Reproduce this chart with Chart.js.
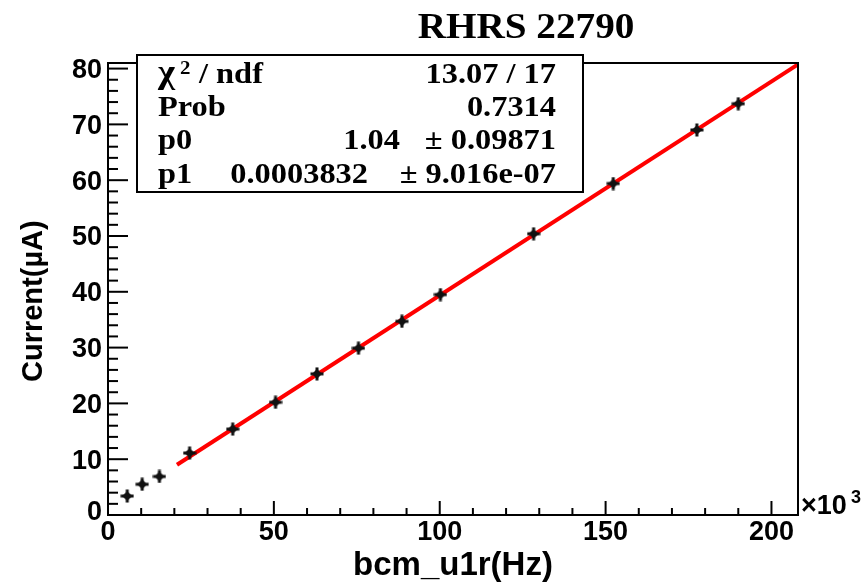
<!DOCTYPE html>
<html>
<head>
<meta charset="utf-8">
<title>RHRS 22790</title>
<script src="https://cdn.jsdelivr.net/npm/chart.js@4.4.1/dist/chart.umd.min.js"></script>
<style>
    html, body { margin: 0; padding: 0; background: #fff; }
    canvas { display: block; }
</style>
</head>
<body>
<canvas id="bcmChart" width="865" height="582"></canvas>
<script>
    // bcm_u1r rate in kHz (axis shows x10^3 Hz) and beam current in uA
    var rateKHz   = [5.8, 10.3, 15.5, 24.6, 37.6, 50.5, 63.0, 75.5, 88.6, 100.2, 128.3, 152.3, 177.5, 190.0];
    var currentUA = [3.4, 5.5, 6.9, 11.1, 15.4, 20.2, 25.3, 29.9, 34.7, 39.5, 50.4, 59.4, 69.0, 73.7];

    // linear fit pol1: I = p0 + p1 * rate(Hz)
    var fitP0 = 1.04;
    var fitP1 = 0.0003832;
    var fitRangeKHz = [20.8, 208];

    var xTickValues = [0, 50, 100, 150, 200];
    var xTickLabels = ['0', '50', '100', '150', '200'];
    var yTickValues = [0, 10, 20, 30, 40, 50, 60, 70, 80];
    var yTickLabels = ['0', '10', '20', '30', '40', '50', '60', '70', '80'];

    var statNames  = ['χ', 'Prob', 'p0', 'p1'];
    var statValues = ['13.07 / 17', '0.7314', '1.04', '0.0003832'];
    var statErrors = ['', '', '± 0.09871', '± 9.016e-07'];

    var xMax = 208;
    var yMax = 81;

    var SANS = '"Liberation Sans", Arial, Helvetica, sans-serif';
    var SERIF = '"Liberation Serif", "Times New Roman", serif';

    var points = rateKHz.map(function (r, i) { return { x: r, y: currentUA[i] }; });
    var fitLine = fitRangeKHz.map(function (r) { return { x: r, y: fitP0 + fitP1 * r * 1000 }; });

    // small cross marker with a solid centre, like the error-bar markers
    function makeMarker() {
        var c = document.createElement('canvas');
        c.width = 14; c.height = 14;
        var g = c.getContext('2d');
        g.fillStyle = '#111';
        g.fillRect(0.5, 5.5, 13, 3);
        g.fillRect(5.5, 0.5, 3, 13);
        g.beginPath();
        g.moveTo(7, 2); g.lineTo(12, 7); g.lineTo(7, 12); g.lineTo(2, 7);
        g.closePath();
        g.fill();
        return c;
    }

    function textStretched(ctx, text, x, y, align, sx) {
        ctx.save();
        ctx.translate(x, y);
        ctx.scale(sx, 1);
        ctx.textAlign = align;
        ctx.fillText(text, 0, 0);
        ctx.restore();
    }

    function line(ctx, x1, y1, x2, y2) {
        ctx.beginPath();
        ctx.moveTo(x1, y1);
        ctx.lineTo(x2, y2);
        ctx.stroke();
    }

    var rootFrame = {
        id: 'rootFrame',
        afterDraw: function (chart) {
            var ctx = chart.ctx;
            var a = chart.chartArea;
            var xs = chart.scales.x;
            var ys = chart.scales.y;
            ctx.save();
            ctx.strokeStyle = '#000';
            ctx.fillStyle = '#000';
            ctx.lineWidth = 2;
            ctx.strokeRect(a.left, a.top, a.right - a.left, a.bottom - a.top);

            // x ticks: major every 50, minor every 10
            for (var i = 0; i * 10 <= xMax; i++) {
                var px = xs.getPixelForValue(i * 10);
                line(ctx, px, a.bottom, px, a.bottom - (i % 5 === 0 ? 14 : 7));
            }
            // y ticks: major every 10, minor every 2
            for (var j = 0; j * 2 <= yMax; j++) {
                var py = ys.getPixelForValue(j * 2);
                line(ctx, a.left, py, a.left + (j % 5 === 0 ? 20 : 10), py);
            }

            ctx.font = 'bold 27px ' + SANS;
            ctx.textBaseline = 'middle';
            ctx.textAlign = 'center';
            xTickValues.forEach(function (v, k) {
                ctx.fillText(xTickLabels[k], xs.getPixelForValue(v), 533);
            });
            ctx.textAlign = 'right';
            yTickValues.forEach(function (v, k) {
                var y = ys.getPixelForValue(v) + 2;
                if (v === 0) y -= 4;
                ctx.fillText(yTickLabels[k], 102, y);
            });

            // x10^3 exponent at the end of the x axis
            ctx.textBaseline = 'alphabetic';
            ctx.textAlign = 'left';
            ctx.font = 'bold 27px ' + SANS;
            ctx.fillText('×10', 801, 514);
            ctx.font = 'bold 18px ' + SANS;
            ctx.fillText('3', 851, 503);

            // axis titles
            ctx.font = 'bold 33px ' + SANS;
            ctx.textAlign = 'center';
            ctx.fillText('bcm_u1r(Hz)', 453, 575);
            ctx.save();
            ctx.translate(42, 382);
            ctx.rotate(-Math.PI / 2);
            ctx.textAlign = 'left';
            ctx.font = 'bold 29px ' + SANS;
            ctx.fillText('Current(µA)', 0, 0);
            ctx.restore();

            // title
            ctx.font = 'bold 35px ' + SERIF;
            textStretched(ctx, 'RHRS 22790', 526, 38, 'center', 1.12);

            // fit statistics box
            ctx.fillStyle = '#fff';
            ctx.fillRect(137, 55, 446, 137);
            ctx.strokeRect(137, 55, 446, 137);
            ctx.fillStyle = '#000';
            var rowBase = [83, 116, 149, 183];
            ctx.font = 'bold 30px ' + SERIF;
            statNames.forEach(function (name, k) {
                var size = k === 0 ? 34 : 30;
                ctx.font = 'bold ' + size + 'px ' + SERIF;
                textStretched(ctx, name, 158, rowBase[k], 'left', 1.08);
            });
            // superscript and rest of chi2 / ndf label
            ctx.font = 'bold 19px ' + SERIF;
            textStretched(ctx, '2', 180, 74, 'left', 1.1);
            ctx.font = 'bold 30px ' + SERIF;
            textStretched(ctx, '/ ndf', 199, rowBase[0], 'left', 1.08);

            var valueRight = [556, 556, 400, 368];
            statValues.forEach(function (val, k) {
                textStretched(ctx, val, valueRight[k], rowBase[k], 'right', 1.08);
                if (statErrors[k]) {
                    textStretched(ctx, statErrors[k], 556, rowBase[k], 'right', 1.08);
                }
            });
            ctx.restore();
        }
    };

    var ctx = document.getElementById('bcmChart').getContext('2d');
    var bcmChart = new Chart(ctx, {
        type: 'scatter',
        data: {
            datasets: [
                {
                    label: 'data',
                    data: points,
                    pointStyle: makeMarker(),
                    pointRadius: 7,
                    showLine: false
                },
                {
                    label: 'pol1 fit',
                    data: fitLine,
                    showLine: true,
                    borderColor: '#ff0000',
                    borderWidth: 4,
                    pointRadius: 0,
                    fill: false
                }
            ]
        },
        options: {
            responsive: false,
            animation: false,
            devicePixelRatio: 1,
            layout: { padding: { left: 108, right: 67, top: 63, bottom: 67 } },
            plugins: {
                legend: { display: false },
                tooltip: { enabled: false },
                title: { display: false }
            },
            scales: {
                x: { type: 'linear', min: 0, max: xMax, display: false },
                y: { type: 'linear', min: 0, max: yMax, display: false }
            }
        },
        plugins: [rootFrame]
    });
</script>
</body>
</html>
